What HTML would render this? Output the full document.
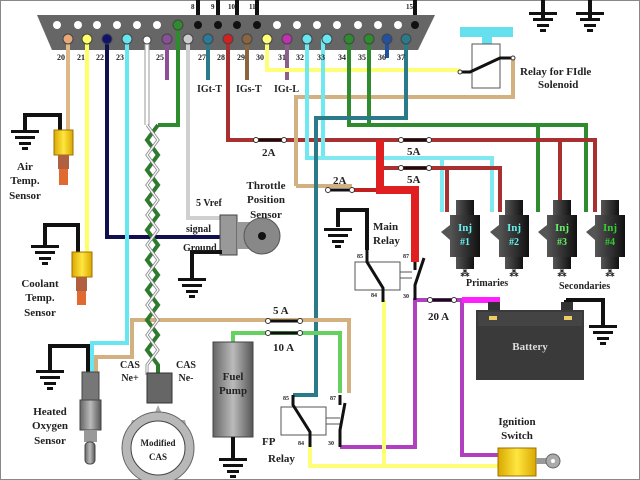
<!DOCTYPE html>
<html><head><meta charset="utf-8"><style>
html,body{margin:0;padding:0;background:#fff;}
svg{display:block;}
text{font-family:"Liberation Serif",serif;font-weight:bold;fill:#222;}
</style></head><body>
<svg width="640" height="480" viewBox="0 0 640 480" xmlns="http://www.w3.org/2000/svg">
<defs>
<linearGradient id="gr" x1="0" x2="1"><stop offset="0" stop-color="#666"/><stop offset=".5" stop-color="#bbb"/><stop offset="1" stop-color="#555"/></linearGradient>
<linearGradient id="inj" x1="0" x2="1"><stop offset="0" stop-color="#555"/><stop offset=".5" stop-color="#333"/><stop offset="1" stop-color="#111"/></linearGradient>
<linearGradient id="yl" x1="0" x2="1"><stop offset="0" stop-color="#d9a800"/><stop offset=".5" stop-color="#ffe640"/><stop offset="1" stop-color="#d9a800"/></linearGradient>
<g id="gnd"><rect x="-14" y="0" width="28" height="3" fill="#111"/><rect x="-10" y="6" width="20" height="3" fill="#111"/><rect x="-6" y="12" width="12" height="3" fill="#111"/><rect x="-3" y="17" width="6" height="3" fill="#111"/></g>
</defs>
<rect x="0.5" y="0.5" width="639" height="479" fill="none" stroke="#888"/>

<!-- black wires top -->
<g stroke="#111" stroke-width="4" fill="none">
<path d="M198 0V25M218 0V25M237 0V25M257 0V25M415 0V25"/>
<path d="M543 0V20M590 0V20"/>
</g>
<use href="#gnd" x="543" y="12"/><use href="#gnd" x="590" y="12"/>

<!-- connector -->
<polygon points="37,15 435,15 418,50 52,50" fill="#666"/>
<g fill="#fff">
<circle cx="57" cy="25" r="4"/><circle cx="78" cy="25" r="4"/><circle cx="97" cy="25" r="4"/><circle cx="117" cy="25" r="4"/><circle cx="137" cy="25" r="4"/><circle cx="157" cy="25" r="4"/><circle cx="277" cy="25" r="4"/><circle cx="297" cy="25" r="4"/><circle cx="317" cy="25" r="4"/><circle cx="337" cy="25" r="4"/><circle cx="358" cy="25" r="4"/><circle cx="378" cy="25" r="4"/><circle cx="398" cy="25" r="4"/>
</g>
<g fill="#111"><circle cx="198" cy="25" r="4"/><circle cx="218" cy="25" r="4"/><circle cx="237" cy="25" r="4"/><circle cx="257" cy="25" r="4"/><circle cx="415" cy="25" r="4"/></g>
<g font-size="7"><text x="191" y="9">8</text><text x="211" y="9">9</text><text x="228" y="9">10</text><text x="249" y="9">11</text><text x="406" y="9">15</text></g>

<!-- wires -->
<g fill="none" stroke-width="4" stroke-linejoin="miter">
<path d="M68 39V130" stroke="#deb887"/>
<path d="M87 39V252" stroke="#ffff66"/>
<path d="M107 39V237H222" stroke="#101050"/>
<path d="M127 39V343H92V372" stroke="#66e6f0"/>
<path d="M147 39V125" stroke="#999" stroke-width="5"/><path d="M147 39V125" stroke="#fff" stroke-width="3"/>
<path d="M167 39V80" stroke="#8b4f9a"/>
<path d="M178 25V125H158" stroke="#2e8b2e"/>
<path d="M188 39V218H222" stroke="#d0d0d0"/>
<path d="M208 39V80" stroke="#2a7a8a"/>
<path d="M228 39V140H380" stroke="#a83030"/>
<path d="M247 39V80" stroke="#8b6540"/>
<path d="M287 39V80" stroke="#8b5e8b"/>
<path d="M267 39V70H460" stroke="#ffff77"/>
<path d="M296 186V97H513V58" stroke="#d2b080"/>
<path d="M296 186H352" stroke="#d2b080"/>
<path d="M307 39V158H323V39" stroke="#70e8f0"/>
<path d="M315 158H492V212M442 158V212" stroke="#80e8f0"/>
<path d="M349 39V125H369V39" stroke="#2e8b2e"/>
<path d="M355 125H586V212M538 125V212" stroke="#2e8b2e"/>
<path d="M387 39V58" stroke="#2050a0"/>
<path d="M406 39V118H316V395H293" stroke="#2a7a8a"/>
<path d="M380 140H595V212M560 140V212" stroke="#a83030"/>
<path d="M380 168H500V212M447 168V212" stroke="#a83030"/>
<path d="M350 190H380" stroke="#c02020"/>
<path d="M96 372V357H132V320H349V393" stroke="#d2b080"/>
<path d="M233 342V333H340V393" stroke="#66d060"/>
<path d="M340 447H415V300H495" stroke="#b040c0"/>
<path d="M462 300V455H505" stroke="#b040c0"/>
<path d="M310 447V466H500M384 300V466" stroke="#ffff77"/>
<path d="M566 300V312M566 300H603V325" stroke="#111"/>
</g>
<path d="M380 140V190H415V262" fill="none" stroke="#e02020" stroke-width="8"/>
<path d="M462 300H500" stroke="#ff20ff" stroke-width="6"/>
<!-- bottom pins -->
<g stroke="#444" stroke-width="1">
<circle cx="68" cy="39" r="5" fill="#e8a878"/><circle cx="87" cy="39" r="5" fill="#ffff66"/><circle cx="107" cy="39" r="5" fill="#101070"/><circle cx="127" cy="39" r="5" fill="#66e6f0"/><circle cx="147" cy="40" r="4" fill="#fff"/><circle cx="167" cy="39" r="5" fill="#8b4f9a"/><circle cx="178" cy="25" r="5" fill="#2e8b2e"/><circle cx="188" cy="39" r="5" fill="#ccc"/><circle cx="208" cy="39" r="5" fill="#2a7a9a"/><circle cx="228" cy="39" r="5" fill="#d02020"/><circle cx="247" cy="39" r="5" fill="#8b6540"/><circle cx="267" cy="39" r="5" fill="#ffff77"/><circle cx="287" cy="39" r="5" fill="#c030b0"/><circle cx="307" cy="39" r="5" fill="#66e6f0"/><circle cx="327" cy="39" r="5" fill="#66e6f0"/><circle cx="349" cy="39" r="5" fill="#2e8b2e"/><circle cx="369" cy="39" r="5" fill="#2e8b2e"/><circle cx="387" cy="39" r="5" fill="#2050a0"/><circle cx="406" cy="39" r="5" fill="#2a7a8a"/>
</g>
<g font-size="8"><text x="57" y="60">20</text><text x="77" y="60">21</text><text x="96" y="60">22</text><text x="116" y="60">23</text><text x="156" y="60">25</text><text x="198" y="60">27</text><text x="217" y="60">28</text><text x="237" y="60">29</text><text x="256" y="60">30</text><text x="278" y="60">31</text><text x="296" y="60">32</text><text x="317" y="60">33</text><text x="338" y="60">34</text><text x="358" y="60">35</text><text x="378" y="60">36</text><text x="397" y="60">37</text></g>
<g font-size="10"><text x="197" y="92">IGt-T</text><text x="236" y="92">IGs-T</text><text x="274" y="92">IGt-L</text></g>

<!-- twisted pair -->
<path d="M158 125 L147 140 L158 155 L147 170 L158 185 L147 200 L158 215 L147 230 L158 245 L147 260 L158 275 L147 290 L158 305 L147 320 L158 335 L147 350 L158 365 V375" fill="none" stroke="#2e7a2e" stroke-width="4"/>
<path d="M147 125 L158 140 L147 155 L158 170 L147 185 L158 200 L147 215 L158 230 L147 245 L158 260 L147 275 L158 290 L147 305 L158 320 L147 335 L158 350 L147 365 V375" fill="none" stroke="#888" stroke-width="3"/>
<path d="M147 125 L158 140 L147 155 L158 170 L147 185 L158 200 L147 215 L158 230 L147 245 L158 260 L147 275 L158 290 L147 305 L158 320 L147 335 L158 350 L147 365 V375" fill="none" stroke="#fff" stroke-width="1.3"/>

<!-- fuses -->
<g stroke="#111" stroke-width="3" fill="#fff">
<path d="M258 140H282M403 140H427M403 168H427M330 190H350M270 321H298M270 333H298M432 300H452" />
</g>
<g fill="#fff" stroke="#333" stroke-width="1">
<circle cx="256" cy="140" r="2.5"/><circle cx="284" cy="140" r="2.5"/><circle cx="401" cy="140" r="2.5"/><circle cx="429" cy="140" r="2.5"/><circle cx="401" cy="168" r="2.5"/><circle cx="429" cy="168" r="2.5"/><circle cx="328" cy="190" r="2.5"/><circle cx="352" cy="190" r="2.5"/><circle cx="268" cy="321" r="2.5"/><circle cx="300" cy="321" r="2.5"/><circle cx="268" cy="333" r="2.5"/><circle cx="300" cy="333" r="2.5"/><circle cx="430" cy="300" r="2.5"/><circle cx="454" cy="300" r="2.5"/>
</g>
<g font-size="11"><text x="262" y="156">2A</text><text x="407" y="155">5A</text><text x="407" y="183">5A</text><text x="333" y="184">2A</text><text x="273" y="314">5 A</text><text x="273" y="351">10 A</text><text x="428" y="320">20 A</text></g>

<!-- Air temp sensor -->
<path d="M60 130V115H25V133" fill="none" stroke="#111" stroke-width="4"/><use href="#gnd" x="25" y="130"/>
<rect x="54" y="130" width="19" height="25" fill="url(#yl)" stroke="#a07000"/>
<rect x="58" y="155" width="11" height="14" fill="#b06040"/><rect x="59" y="169" width="9" height="16" fill="#e06a30"/>
<g font-size="11" text-anchor="middle"><text x="25" y="170">Air</text><text x="25" y="184">Temp.</text><text x="25" y="199">Sensor</text></g>
<!-- coolant -->
<path d="M78 252V225H45V245" fill="none" stroke="#111" stroke-width="4"/><use href="#gnd" x="45" y="245"/>
<rect x="72" y="252" width="20" height="25" fill="url(#yl)" stroke="#a07000"/>
<rect x="76" y="277" width="11" height="14" fill="#b06040"/><rect x="77" y="291" width="9" height="14" fill="#e06a30"/>
<g font-size="11" text-anchor="middle"><text x="40" y="287">Coolant</text><text x="40" y="301">Temp.</text><text x="40" y="316">Sensor</text></g>
<!-- O2 -->
<path d="M88 372V346H50V370" fill="none" stroke="#111" stroke-width="4"/><use href="#gnd" x="50" y="370"/>
<rect x="82" y="372" width="17" height="28" fill="#777" stroke="#444"/><rect x="80" y="400" width="21" height="30" fill="url(#gr)" stroke="#444"/>
<rect x="84" y="430" width="13" height="12" fill="#999"/><rect x="85" y="442" width="10" height="22" rx="4" fill="url(#gr)" stroke="#444"/>
<g font-size="11" text-anchor="middle"><text x="50" y="415">Heated</text><text x="50" y="429">Oxygen</text><text x="50" y="444">Sensor</text></g>
<!-- CAS -->
<rect x="147" y="373" width="25" height="30" fill="#666" stroke="#333"/>
<polygon points="158,405 165,420 185,420 190,440 185,470 130,470 126,440 132,420 152,420" fill="#aaa"/>
<circle cx="158" cy="448" r="36" fill="#b8b8b8" stroke="#666"/><circle cx="158" cy="448" r="27" fill="#fff" stroke="#444"/>
<g font-size="9" text-anchor="middle"><text x="158" y="446">Modified</text><text x="158" y="460">CAS</text></g>
<g font-size="10" text-anchor="middle"><text x="130" y="368">CAS</text><text x="130" y="381">Ne+</text><text x="186" y="368">CAS</text><text x="186" y="381">Ne-</text></g>
<!-- TPS -->
<rect x="220" y="215" width="17" height="40" fill="#999" stroke="#444"/><rect x="237" y="222" width="24" height="27" fill="#999"/>
<circle cx="262" cy="236" r="18" fill="#888" stroke="#555"/><circle cx="262" cy="236" r="4" fill="#111"/>
<path d="M222 252H192V278" fill="none" stroke="#111" stroke-width="4"/><use href="#gnd" x="192" y="278"/>
<g font-size="10"><text x="196" y="206">5 Vref</text><text x="186" y="232">signal</text><text x="183" y="251">Ground</text></g>
<g font-size="11" text-anchor="middle"><text x="266" y="189">Throttle</text><text x="266" y="203">Position</text><text x="266" y="218">Sensor</text></g>
<!-- Fuel pump -->
<rect x="213" y="342" width="40" height="95" fill="url(#gr)" stroke="#444"/>
<g font-size="11" text-anchor="middle"><text x="233" y="380">Fuel</text><text x="233" y="394">Pump</text></g>
<path d="M233 437V458" stroke="#111" stroke-width="4"/><use href="#gnd" x="233" y="458"/>
<!-- FP relay -->
<rect x="281" y="407" width="45" height="28" fill="#fff" stroke="#555"/>
<path d="M326 418H340M326 424H340" stroke="#555"/>
<path d="M293 395V405L310 432V447M340 395V405M345 403L340 430V447" fill="none" stroke="#111" stroke-width="3"/>
<g font-size="6"><text x="283" y="400">85</text><text x="330" y="400">87</text><text x="298" y="445">84</text><text x="328" y="445">30</text></g>
<g font-size="11"><text x="262" y="445">FP</text><text x="268" y="462">Relay</text></g>
<!-- Main relay -->
<path d="M367 250V210H338V227" fill="none" stroke="#111" stroke-width="4"/><use href="#gnd" x="338" y="228"/>
<rect x="355" y="262" width="45" height="28" fill="#fff" stroke="#555"/>
<path d="M400 272H412M400 278H412" stroke="#555"/>
<path d="M367 250V262L383 288V302M415 262V270M424 258L415 285V300" fill="none" stroke="#111" stroke-width="3"/>
<g font-size="6"><text x="357" y="258">85</text><text x="403" y="258">87</text><text x="371" y="297">84</text><text x="403" y="298">30</text></g>
<g font-size="11"><text x="373" y="230">Main</text><text x="373" y="244">Relay</text></g>
<!-- injectors -->
<g>
<g transform="translate(465,0)"><rect x="-9" y="200" width="18" height="15" fill="url(#inj)"/><rect x="-15" y="215" width="30" height="42" fill="url(#inj)"/><rect x="-9" y="257" width="18" height="12" fill="url(#inj)"/><polygon points="-15,225 -24,232 -15,240" fill="#555"/><text x="0" y="231" font-size="11" text-anchor="middle" fill="#6ee" style="fill:#6ee">Inj</text><text x="0" y="245" font-size="10" text-anchor="middle" style="fill:#6ee">#1</text></g>
<g transform="translate(514,0)"><rect x="-9" y="200" width="18" height="15" fill="url(#inj)"/><rect x="-15" y="215" width="30" height="42" fill="url(#inj)"/><rect x="-9" y="257" width="18" height="12" fill="url(#inj)"/><polygon points="-15,225 -24,232 -15,240" fill="#555"/><text x="0" y="231" font-size="11" text-anchor="middle" style="fill:#6ee">Inj</text><text x="0" y="245" font-size="10" text-anchor="middle" style="fill:#6ee">#2</text></g>
<g transform="translate(562,0)"><rect x="-9" y="200" width="18" height="15" fill="url(#inj)"/><rect x="-15" y="215" width="30" height="42" fill="url(#inj)"/><rect x="-9" y="257" width="18" height="12" fill="url(#inj)"/><polygon points="-15,225 -24,232 -15,240" fill="#555"/><text x="0" y="231" font-size="11" text-anchor="middle" style="fill:#6e6">Inj</text><text x="0" y="245" font-size="10" text-anchor="middle" style="fill:#6e6">#3</text></g>
<g transform="translate(610,0)"><rect x="-9" y="200" width="18" height="15" fill="url(#inj)"/><rect x="-15" y="215" width="30" height="42" fill="url(#inj)"/><rect x="-9" y="257" width="18" height="12" fill="url(#inj)"/><polygon points="-15,225 -24,232 -15,240" fill="#555"/><text x="0" y="231" font-size="11" text-anchor="middle" style="fill:#3c3">Inj</text><text x="0" y="245" font-size="10" text-anchor="middle" style="fill:#3c3">#4</text></g>
</g>
<g font-size="9" fill="#555" text-anchor="middle"><text x="465" y="276">⁂</text><text x="514" y="276">⁂</text><text x="562" y="276">⁂</text><text x="610" y="276">⁂</text></g>
<g font-size="10"><text x="466" y="286">Primaries</text><text x="559" y="289">Secondaries</text></g>
<!-- battery -->
<rect x="488" y="302" width="12" height="10" fill="#333"/><rect x="561" y="302" width="12" height="10" fill="#333"/>
<rect x="476" y="310" width="108" height="70" fill="#3a3a3a"/><rect x="478" y="312" width="104" height="14" fill="#444"/>
<rect x="489" y="316" width="8" height="4" fill="#ec6"/><rect x="564" y="316" width="8" height="4" fill="#ec6"/>
<text x="530" y="350" font-size="11" text-anchor="middle" style="fill:#ddd">Battery</text>
<use href="#gnd" x="603" y="325"/>
<!-- ignition -->
<rect x="498" y="448" width="38" height="28" fill="url(#yl)" stroke="#a07000"/>
<rect x="536" y="458" width="10" height="6" fill="#999"/><circle cx="553" cy="461" r="7" fill="#aaa" stroke="#666"/><circle cx="553" cy="461" r="2" fill="#fff"/>
<g font-size="11" text-anchor="middle"><text x="517" y="425">Ignition</text><text x="517" y="439">Switch</text></g>
<!-- FIdle relay -->
<rect x="460" y="27" width="53" height="10" fill="#66e0ee"/><polygon points="482,44 482,37 478,37 487,29 496,37 492,37 492,44" fill="#66e0ee"/>
<rect x="472" y="44" width="28" height="44" fill="#fff" stroke="#555"/>
<path d="M460 72H470L500 58H513" fill="none" stroke="#111" stroke-width="3"/>
<circle cx="460" cy="72" r="2" fill="#fff" stroke="#333"/><circle cx="513" cy="58" r="2" fill="#fff" stroke="#333"/>
<g font-size="11"><text x="520" y="75">Relay for FIdle</text><text x="538" y="88">Solenoid</text></g>
</svg>
</body></html>
